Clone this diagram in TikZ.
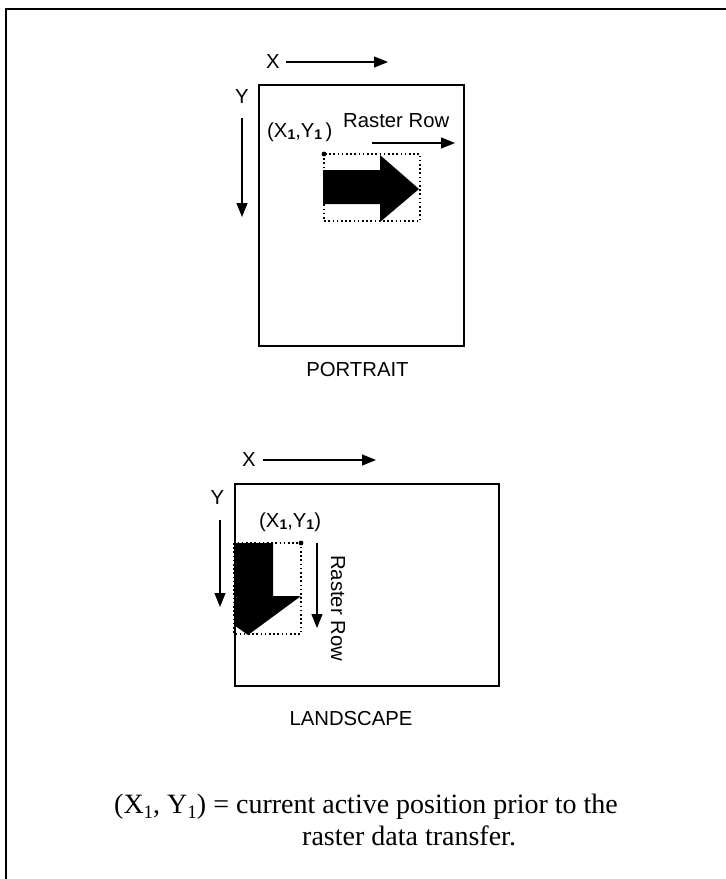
\documentclass[tikz,border=0pt]{standalone}
\usepackage{fontspec}
\setmainfont{Liberation Serif}
\setsansfont{Liberation Sans}
\usetikzlibrary{arrows.meta}
% lowered bold index in the sans labels
\newcommand\lblidx[1]{\raisebox{-2.5pt}{\fontsize{14}{14}\selectfont\bfseries #1}}
% lowered index in the serif caption
\newcommand\capidx[1]{\raisebox{-5pt}{\fontsize{19}{19}\selectfont #1}}
\begin{document}
\begin{tikzpicture}[x=1pt,y=-1pt,
  lbl/.style={font=\sffamily\fontsize{20.3}{23}\selectfont, inner sep=0pt},
  captxt/.style={font=\rmfamily\fontsize{28}{30}\selectfont, inner sep=0pt, anchor=base west},
  dirarrow/.style={line width=1.2pt, -{Triangle[length=14pt,width=11pt]}},
  sheet/.style={draw, line width=1.6pt, inner sep=0pt, anchor=north west},
  bound/.style={line width=1.9pt, dash pattern=on 1.6pt off 2.6pt},
  glyph/.style={fill=black, draw=none},
  origin/.style={circle, fill=black, inner sep=0pt, minimum size=4.8pt},
  frameline/.style={line width=2pt}]
\useasboundingbox (0,0) rectangle (726,879);

% enclosing frame (top and left edges)
\draw[frameline] (6,879) -- (6,9) -- (726,9);

% ---------------- portrait page ----------------
\node[sheet, minimum width=205pt, minimum height=261pt] (pbox) at (258,84) {};
\node[lbl] (px) at (273,62) {X};
\coordinate (pxend) at (388,62);
\draw[dirarrow] ([xshift=6pt]px.east) -- (pxend);
\node[lbl] (py) at (242,97) {Y};
\coordinate (pyend) at (242,217);
\draw[dirarrow] ([yshift=-14pt]py.south) -- (pyend);

\node[lbl, anchor=base west] (pxy) at (267,137) {(X\lblidx{1},Y\lblidx{1}\,)};
\node[lbl, anchor=base west] (prr) at (343,127) {Raster Row};
\coordinate (prrs) at (372,143);
\coordinate (prre) at (455,143);
\draw[dirarrow] (prrs) -- (prre);

\draw[bound] (324,154) rectangle (420,221);
\fill[glyph] (323,170) -- (380,170) -- (380,155) -- (419,189)
  -- (380,222) -- (380,204) -- (323,204) -- cycle;
\node[origin] (pdot) at (324,154) {};

\node[lbl] (ptitle) at (357.5,369.5) {PORTRAIT};

% ---------------- landscape page ----------------
\node[sheet, minimum width=264pt, minimum height=202pt] (lbox) at (234,483) {};
\node[lbl] (lx) at (249,460) {X};
\coordinate (lxend) at (376,460);
\draw[dirarrow] ([xshift=7pt]lx.east) -- (lxend);
\node[lbl] (ly) at (217.5,498) {Y};
\coordinate (lystart) at (220,520);
\coordinate (lyend) at (220,607);
\draw[dirarrow] (lystart) -- (lyend);

\node[lbl, anchor=base west] (lxy) at (259,527) {(X\lblidx{1},Y\lblidx{1})};

\draw[bound] (234,543) rectangle (301,634);
\fill[glyph] (234,543) -- (273,543) -- (273,596) -- (301,596)
  -- (248,635) -- (234,625) -- cycle;
\node[origin] (ldot) at (301,543) {};

\coordinate (lrrs) at (317,543);
\coordinate (lrre) at (317,628);
\draw[dirarrow] (lrrs) -- (lrre);
\node[lbl, rotate=-90, anchor=base west] (lrr) at (331,555) {Raster Row};

\node[lbl] (ltitle) at (351,719) {LANDSCAPE};

% ---------------- caption ----------------
\node[captxt] (cap1) at (114,813)
  {(X\capidx{1}, Y\capidx{1}) = current active position prior to the};
\node[captxt] (cap2) at (302,845) {raster data transfer.};
\end{tikzpicture}
\end{document}
